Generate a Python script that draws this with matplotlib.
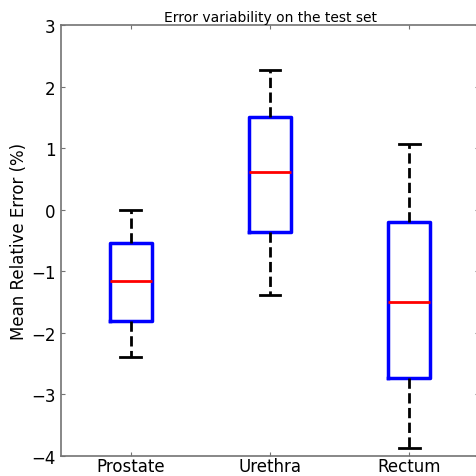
import matplotlib
matplotlib.use('Agg')
import matplotlib.pyplot as plt

# valori
categorie = ['Prostate', 'Urethra', 'Rectum']
baffo_basso = [-2.40, -1.38, -3.87]
q1 = [-1.81, -0.36, -2.74]
mediane = [-1.15, 0.61, -1.50]
q3 = [-0.54, 1.50, -0.20]
baffo_alto = [0.0, 2.27, 1.06]

stats = []
for nome, wl, a, m, b, wh in zip(categorie, baffo_basso, q1, mediane, q3, baffo_alto):
    stats.append({'label': nome, 'whislo': wl, 'q1': a, 'med': m, 'q3': b, 'whishi': wh, 'fliers': []})

fig = plt.figure(figsize=(4.76, 4.77), dpi=100)
W, H = 476.0, 477.0
ax = fig.add_axes([61 / W, (H - 457) / H, (479 - 61) / W, (457 - 26) / H])

ax.bxp(stats, widths=0.3, capwidths=0.15, showfliers=False,
       boxprops=dict(color='blue', linewidth=2.5),
       medianprops=dict(color='red', linewidth=2),
       whiskerprops=dict(color='black', linewidth=2, linestyle='--'),
       capprops=dict(color='black', linewidth=2))

ax.set_xlim(0.5, 3.5)
ax.set_ylim(-4, 3)
ax.set_yticks(range(-4, 4))
ax.set_yticklabels(['\u2212%d' % abs(v) if v < 0 else str(v) for v in range(-4, 4)])
ax.tick_params(direction='in', top=True, right=True, labelsize=12, length=3, color='0.45')
ax.tick_params(axis='x', pad=1)
ax.tick_params(axis='y', pad=4)
for s in ax.spines.values():
    s.set_color('0.45')
    s.set_linewidth(1.2)
ax.set_ylabel('Mean Relative Error (%)', fontsize=12, labelpad=2)
ax.set_title('Error variability on the test set', fontsize=10, pad=3)

fig.savefig('out.png', dpi=100)
